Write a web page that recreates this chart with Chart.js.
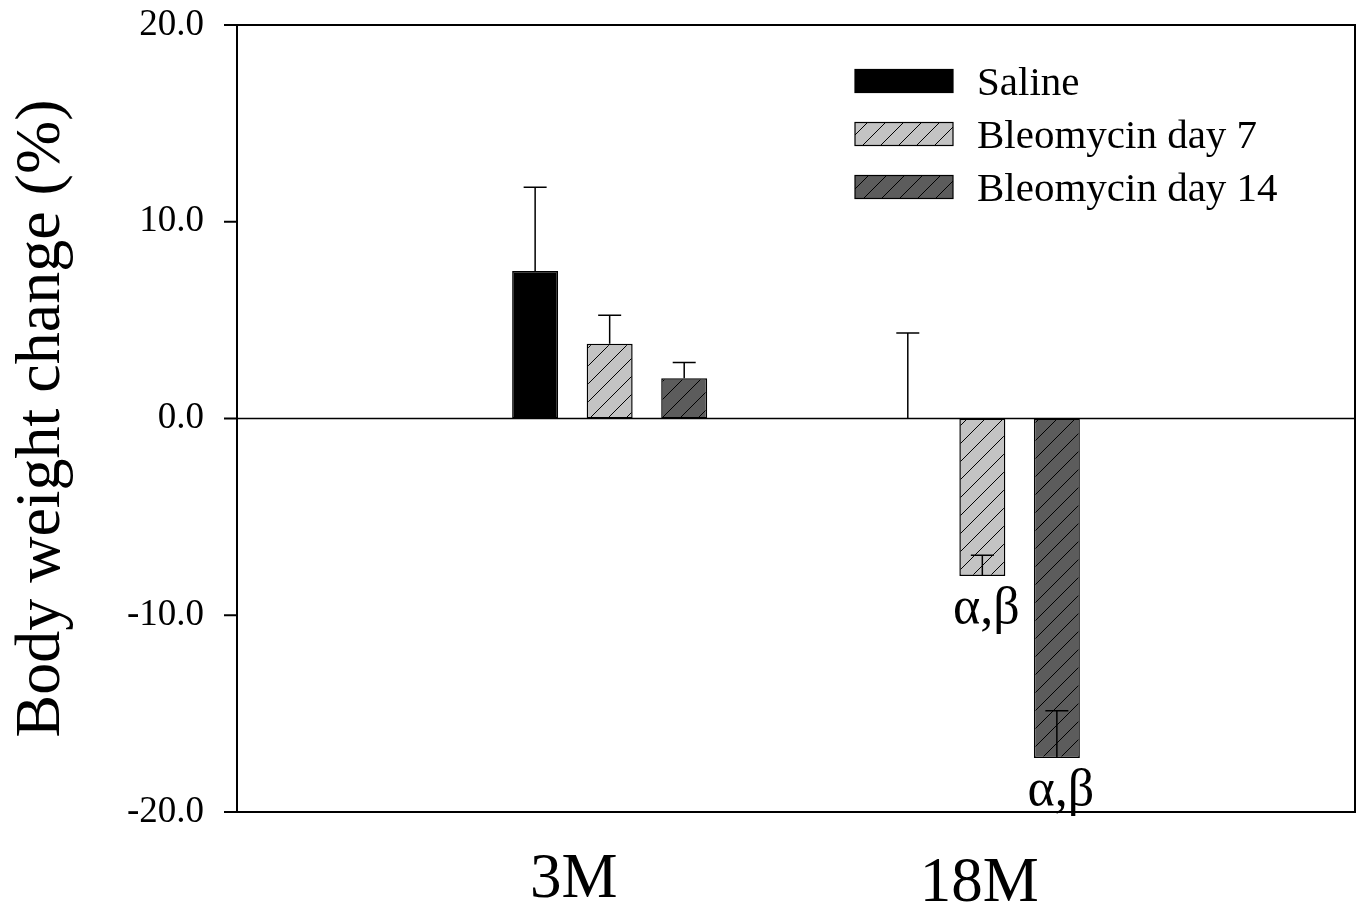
<!DOCTYPE html>
<html>
<head>
<meta charset="utf-8">
<script src="https://cdn.jsdelivr.net/npm/chart.js@4.4.1/dist/chart.umd.min.js"></script>
<style>
  html, body { margin: 0; padding: 0; background: #fff; }
  #wrap { width: 1361px; height: 908px; }
</style>
</head>
<body>
<div id="wrap"><canvas id="chart" width="1361" height="908"></canvas></div>
<script>
const groups = ['', '3M', '18M', ''];
const seriesNames = ['Saline', 'Bleomycin day 7', 'Bleomycin day 14'];
const saline = [null, 7.5, 0, null];
const bleo7 = [null, 3.8, -8.0, null];
const bleo14 = [null, 2.05, -17.25, null];
const salineErr = [null, 4.25, 4.35, null];
const bleo7Err = [null, 1.45, 1.05, null];
const bleo14Err = [null, 0.8, 2.4, null];
const yTicks = [-20, -10, 0, 10, 20];
const marks = [
  { series: 1, index: 2, text: 'α,β' },
  { series: 2, index: 2, text: 'α,β' }
];

const SERIF = "'Liberation Serif', 'Times New Roman', serif";

function hatch(bg) {
  const s = 18;
  const c = document.createElement('canvas');
  c.width = s; c.height = s;
  const g = c.getContext('2d');
  g.fillStyle = bg;
  g.fillRect(0, 0, s, s);
  g.strokeStyle = '#000';
  g.lineWidth = 1;
  g.beginPath();
  g.moveTo(0, s); g.lineTo(s, 0);
  g.moveTo(-s / 2, s / 2); g.lineTo(s / 2, -s / 2);
  g.moveTo(s / 2, s * 1.5); g.lineTo(s * 1.5, s / 2);
  g.stroke();
  return g.createPattern(c, 'repeat');
}

const fills = ['#000000', hatch('#c3c3c3'), hatch('#5c5c5c')];
const errs = [salineErr, bleo7Err, bleo14Err];

// error bars, legend, box, x labels, annotations
const extras = {
  id: 'extras',
  afterDatasetsDraw(chart) {
    const ctx = chart.ctx;
    const a = chart.chartArea;
    const y = chart.scales.y;
    const x = chart.scales.x;
    ctx.save();
    ctx.strokeStyle = '#000';
    ctx.lineWidth = 1.5;
    // error bars (drawn upward from the bar end)
    chart.data.datasets.forEach((ds, di) => {
      const meta = chart.getDatasetMeta(di);
      ds.data.forEach((v, i) => {
        if (v === null || errs[di][i] === null) return;
        const px = meta.data[i].x;
        const y0 = y.getPixelForValue(v);
        const y1 = y.getPixelForValue(v + errs[di][i]);
        ctx.beginPath();
        ctx.moveTo(px, y0); ctx.lineTo(px, y1);
        ctx.moveTo(px - 11.5, y1); ctx.lineTo(px + 11.5, y1);
        ctx.stroke();
      });
    });
    // zero line
    ctx.beginPath();
    ctx.moveTo(a.left, y.getPixelForValue(0));
    ctx.lineTo(a.right, y.getPixelForValue(0));
    ctx.stroke();
    // frame
    ctx.lineWidth = 2;
    ctx.strokeRect(a.left, a.top, a.right - a.left, a.bottom - a.top);
    // y tick marks
    yTicks.forEach(t => {
      const py = y.getPixelForValue(t);
      ctx.beginPath();
      ctx.moveTo(a.left - 13, py); ctx.lineTo(a.left, py);
      ctx.stroke();
    });
    // annotations
    ctx.fillStyle = '#000';
    ctx.font = '52px ' + SERIF;
    ctx.textAlign = 'center';
    ctx.textBaseline = 'middle';
    marks.forEach(m => {
      const bar = chart.getDatasetMeta(m.series).data[m.index];
      ctx.fillText(m.text, bar.x + 4, bar.y + 33);
    });
    // x category labels
    ctx.font = '63px ' + SERIF;
    ctx.textBaseline = 'alphabetic';
    const shift = [0, -36, -3, 0];
    const drop = [0, 897, 901, 0];
    groups.forEach((g, i) => {
      if (!g) return;
      ctx.fillText(g, x.getPixelForValue(i) + shift[i], drop[i]);
    });
    // legend
    ctx.font = '41px ' + SERIF;
    ctx.textAlign = 'left';
    const lx = a.left + 618;
    seriesNames.forEach((n, i) => {
      const cy = a.top + 56 + i * 53;
      ctx.fillStyle = fills[i];
      ctx.fillRect(lx, cy - 11.5, 98, 23);
      ctx.lineWidth = 1.2;
      ctx.strokeRect(lx, cy - 11.5, 98, 23);
      ctx.fillStyle = '#000';
      ctx.fillText(n, lx + 122, cy + 14);
    });
    ctx.restore();
  }
};

new Chart(document.getElementById('chart'), {
  type: 'bar',
  data: {
    labels: groups,
    datasets: [saline, bleo7, bleo14].map((d, i) => ({
      label: seriesNames[i],
      data: d,
      backgroundColor: fills[i],
      borderColor: '#000',
      borderWidth: 1.5,
      borderSkipped: false,
      categoryPercentage: 0.6,
      barPercentage: 0.617
    }))
  },
  options: {
    responsive: false,
    animation: false,
    events: [],
    layout: { padding: { left: 0, right: 6, top: 25, bottom: 0 } },
    plugins: { legend: { display: false }, tooltip: { enabled: false } },
    scales: {
      x: {
        type: 'category',
        offset: false,
        grid: { display: false },
        border: { display: false },
        ticks: { display: false },
        afterFit(s) { s.height = 96; }
      },
      y: {
        min: -20, max: 20,
        afterBuildTicks(s) { s.ticks = yTicks.map(v => ({ value: v })); },
        grid: { display: false },
        border: { display: false },
        ticks: {
          color: '#000',
          padding: 25,
          font: { family: SERIF, size: 37 },
          callback: v => v.toFixed(1)
        },
        title: {
          display: true,
          text: 'Body weight change (%)',
          color: '#000',
          font: { family: SERIF, size: 64 },
          padding: { top: 4, bottom: 4 }
        },
        afterFit(s) {
          s.width = 237;
          s.paddingTop = 0;
          s.paddingBottom = 0;
        }
      }
    }
  },
  plugins: [extras]
});
</script>
</body>
</html>
